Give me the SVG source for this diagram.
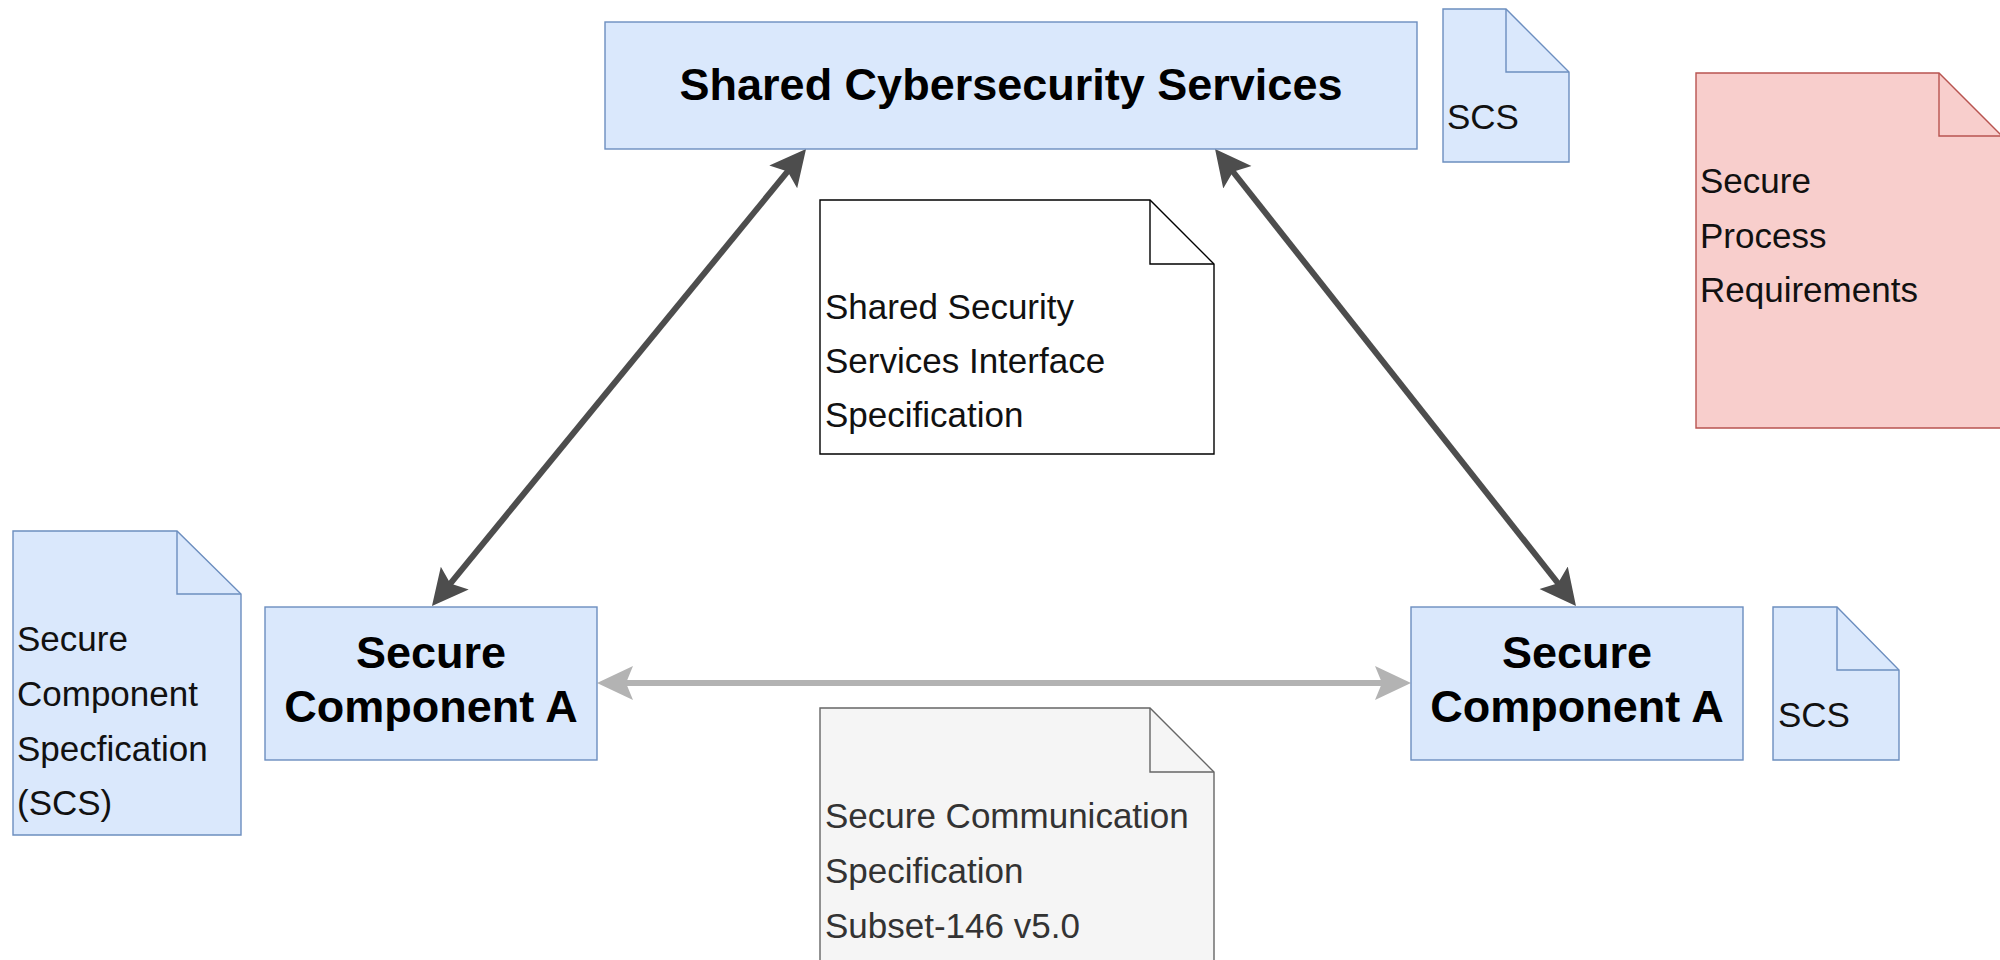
<svg xmlns="http://www.w3.org/2000/svg" width="2000" height="960" viewBox="0 0 2000 960">
<style>
.blue{fill:#dae8fc;stroke:#6c8ebf;stroke-width:1.4}
.red{fill:#f8cecc;stroke:#b85450;stroke-width:1.4}
.grey{fill:#f5f5f5;stroke:#666666;stroke-width:1.4}
.white{fill:#ffffff;stroke:#000000;stroke-width:1.4}
.fold{fill:none}
.title{font-family:"Liberation Sans",Arial,sans-serif;font-weight:bold;font-size:45px;fill:#000;text-anchor:middle}
.txt{font-family:"Liberation Sans",Arial,sans-serif;font-size:35px;fill:#111}
.txtg{font-family:"Liberation Sans",Arial,sans-serif;font-size:35px;fill:#333}
.dark{stroke:#4d4d4d;stroke-width:6;fill:none}
.light{stroke:#b3b3b3;stroke-width:6;fill:none}
</style>
<defs>
<marker id="ahDark" markerUnits="userSpaceOnUse" markerWidth="44" markerHeight="44" viewBox="0 -22 44 44" refX="8" refY="0" orient="auto-start-reverse">
<path d="M0,-18 L36,0 L0,18 L7,0 Z" fill="#4d4d4d"/>
</marker>
<marker id="ahLight" markerUnits="userSpaceOnUse" markerWidth="44" markerHeight="44" viewBox="0 -22 44 44" refX="8" refY="0" orient="auto-start-reverse">
<path d="M0,-17 L36,0 L0,17 L7,0 Z" fill="#b3b3b3"/>
</marker>
</defs>
<rect width="2000" height="960" fill="#ffffff"/>

<g id="connectors">
<path class="dark" d="M788.3,170.7 L449.7,584.3" marker-start="url(#ahDark)" marker-end="url(#ahDark)"/>
<path class="dark" d="M1232.4,171 L1558.6,584" marker-start="url(#ahDark)" marker-end="url(#ahDark)"/>
<path class="light" d="M625,683 L1383,683" marker-start="url(#ahLight)" marker-end="url(#ahLight)"/>
</g>

<g id="shared-cybersecurity-services">
<rect class="blue" x="605" y="22" width="812" height="127"/>
<text class="title" x="1011" y="100">Shared Cybersecurity Services</text>
</g>

<g id="scs-note-top">
<path class="blue" d="M1443,9 H1506 L1569,72 V162 H1443 Z"/>
<path class="blue fold" d="M1506,9 V72 H1569"/>
<text class="txt" x="1447" y="129">SCS</text>
</g>

<g id="secure-process-requirements">
<path class="red" d="M1696,73 H1939 L2002,136 V428 H1696 Z"/>
<path class="red fold" d="M1939,73 V136 H2002"/>
<text class="txt" x="1700" y="193">Secure</text>
<text class="txt" x="1700" y="248">Process</text>
<text class="txt" x="1700" y="302">Requirements</text>
</g>

<g id="interface-spec">
<path class="white" d="M820,200 H1150 L1214,264 V454 H820 Z"/>
<path class="white fold" d="M1150,200 V264 H1214"/>
<text class="txt" x="825" y="319">Shared Security</text>
<text class="txt" x="825" y="373">Services Interface</text>
<text class="txt" x="825" y="427">Specification</text>
</g>

<g id="secure-component-spec">
<path class="blue" d="M13,531 H177 L241,594 V835 H13 Z"/>
<path class="blue fold" d="M177,531 V594 H241"/>
<text class="txt" x="17" y="651">Secure</text>
<text class="txt" x="17" y="706">Component</text>
<text class="txt" x="17" y="761">Specfication</text>
<text class="txt" x="17" y="815">(SCS)</text>
</g>

<g id="secure-component-a-left">
<rect class="blue" x="265" y="607" width="332" height="153"/>
<text class="title" x="431" y="668">Secure</text>
<text class="title" x="431" y="722">Component A</text>
</g>

<g id="secure-component-a-right">
<rect class="blue" x="1411" y="607" width="332" height="153"/>
<text class="title" x="1577" y="668">Secure</text>
<text class="title" x="1577" y="722">Component A</text>
</g>

<g id="scs-note-right">
<path class="blue" d="M1773,607 H1837 L1899,670 V760 H1773 Z"/>
<path class="blue fold" d="M1837,607 V670 H1899"/>
<text class="txt" x="1778" y="727">SCS</text>
</g>

<g id="secure-communication-spec">
<path class="grey" d="M820,708 H1150 L1214,772 V966 H820 Z"/>
<path class="grey fold" d="M1150,708 V772 H1214"/>
<text class="txtg" x="825" y="828">Secure Communication</text>
<text class="txtg" x="825" y="883">Specification</text>
<text class="txtg" x="825" y="938">Subset-146 v5.0</text>
</g>
</svg>
